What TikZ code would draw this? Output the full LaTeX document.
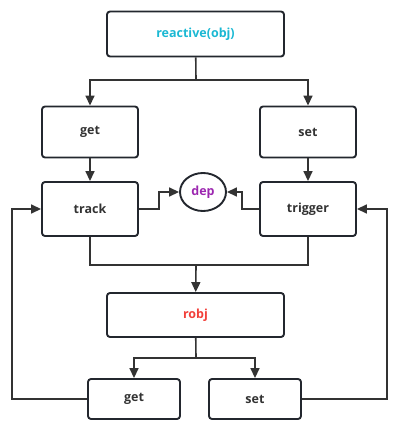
\documentclass[tikz,border=0pt]{standalone}
\usepackage{fontspec}
\setmainfont{Open Sans}
\usetikzlibrary{arrows.meta,shapes.geometric}
\definecolor{linegray}{HTML}{333333}
\definecolor{boxedge}{HTML}{23272E}
\definecolor{reactcyan}{HTML}{1AB8D3}
\definecolor{deppurple}{HTML}{9C27B0}
\definecolor{robjred}{HTML}{F2403A}
\begin{document}
\begin{tikzpicture}[
    x=1pt, y=-1pt,
    >={Triangle[length=10pt,width=9pt]},
    every node/.style={font=\fontsize{12.5}{14}\selectfont\bfseries, text=linegray},
    box/.style={draw=boxedge, line width=1.9pt, rounded corners=3pt, minimum width=#1},
    box/.default=96pt,
    bubble/.style={draw=boxedge, line width=1.9pt, ellipse, minimum width=46pt, minimum height=38pt, inner sep=0pt},
    link/.style={draw=linegray, line width=1.6pt}]

\useasboundingbox (0,0) rectangle (407,428);

\node[box=177pt, minimum height=45pt, text=reactcyan] (reactive) at (195.5,34) {reactive(obj)};
\node[box, minimum height=51pt] (get1) at (90,132) {get};
\node[box, minimum height=51pt] (set1) at (308,132) {set};
\node[box, minimum height=54pt] (track) at (90,209) {track};
\node[box, minimum height=54pt] (trigger) at (308,209) {trigger};
\node[bubble, text=deppurple] (dep) at (203,192) {dep};
\node[box=177pt, minimum height=44pt, text=robjred] (robj) at (195.5,315) {robj};
\node[box=92pt, minimum height=40pt] (get2) at (134,399) {get};
\node[box=92pt, minimum height=40pt] (set2) at (255,399) {set};

\coordinate (split) at (196,80);
\coordinate (join) at (196,265);
\coordinate (fork) at (196,358);
\coordinate (lside) at (12,0);
\coordinate (rside) at (387,0);

\draw[link] (reactive) -- (split);
\draw[link,->] (split) -| (get1);
\draw[link,->] (split) -| (set1);
\draw[link,->] (get1) -- (track);
\draw[link,->] (set1) -- (trigger);
\draw[link,->] (track.east) -- ++(20,0) |- (dep.west);
\draw[link,->] (trigger.west) -- ++(-17,0) |- (dep.east);
\draw[link] (track.south) |- (join) -| (trigger.south);
\draw[link,->] (join) -- (robj);
\draw[link] (robj) -- (fork);
\draw[link,->] (fork) -| (get2);
\draw[link,->] (fork) -| (set2);
\draw[link,->] (get2.west) -- (get2.west -| lside) -- (track.west -| lside) -- (track.west);
\draw[link,->] (set2.east) -- (set2.east -| rside) -- (trigger.east -| rside) -- (trigger.east);

\end{tikzpicture}
\end{document}
